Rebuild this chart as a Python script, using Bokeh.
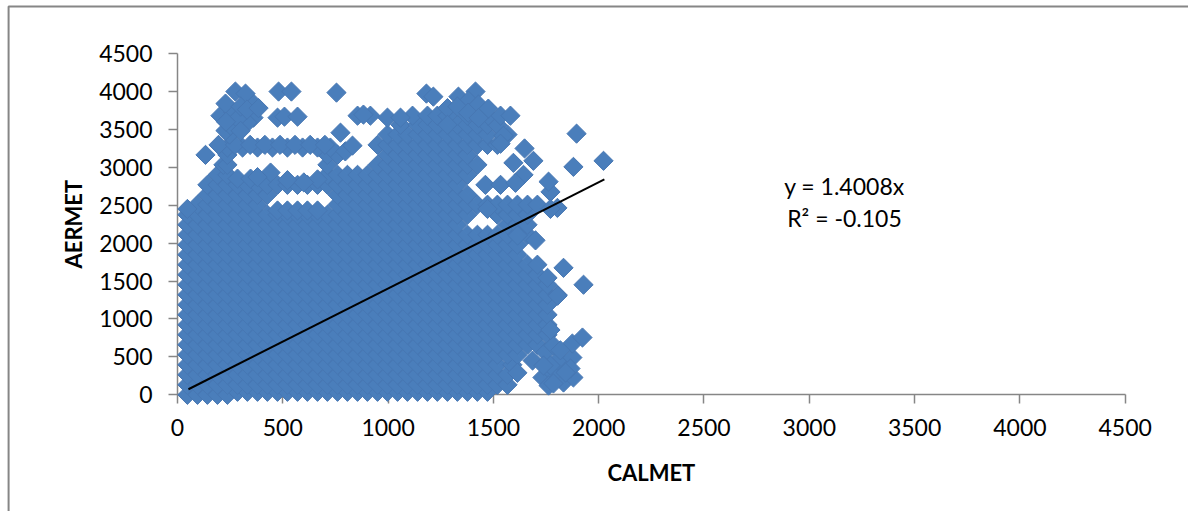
import math
from bokeh.embed import file_html
from bokeh.resources import INLINE
from bokeh.plotting import figure
from bokeh.models import FixedTicker, Label, Range1d

TICKS = [0, 500, 1000, 1500, 2000, 2500, 3000, 3500, 4000, 4500]
X_TITLE = "CALMET"
Y_TITLE = "AERMET"
EQUATION = "y = 1.4008x"
R_SQUARED = "R² = -0.105"
TREND_X = [52, 2027]
TREND_Y = [73, 2840]

# Points read row by row from the dense cloud: (CALMET values) at one AERMET level
ROWS = {}
ROWS[0] = [47, 95, 142, 190, 237]
ROWS[40] = [285, 332, 380, 427, 475, 522, 570, 617, 665, 712, 760, 807, 855, 902, 950, 997, 1045, 1092, 1140, 1187, 1234, 1282, 1329, 1377, 1424, 1472]
ROWS[132] = [47, 95, 142, 190, 237, 285, 332, 380, 427, 475, 522, 570, 617, 665, 712, 760, 807, 855, 902, 950, 997, 1045, 1092, 1140, 1187, 1234, 1282, 1329, 1377, 1424, 1472, 1519, 1567]
ROWS[264] = [47, 95, 142, 190, 237, 285, 332, 380, 427, 475, 522, 570, 617, 665, 712, 760, 807, 855, 902, 950, 997, 1045, 1092, 1140, 1187, 1234, 1282, 1329, 1377, 1424, 1472, 1519, 1567]
ROWS[396] = [47, 95, 142, 190, 237, 285, 332, 380, 427, 475, 522, 570, 617, 665, 712, 760, 807, 855, 902, 950, 997, 1045, 1092, 1140, 1187, 1234, 1282, 1329, 1377, 1424, 1472, 1519, 1590]
ROWS[528] = [47, 95, 142, 190, 237, 285, 332, 380, 427, 475, 522, 570, 617, 665, 712, 760, 807, 855, 902, 950, 997, 1045, 1092, 1140, 1187, 1234, 1282, 1329, 1377, 1424, 1472, 1519, 1567, 1614]
ROWS[660] = [47, 95, 142, 190, 237, 285, 332, 380, 427, 475, 522, 570, 617, 665, 712, 760, 807, 855, 902, 950, 997, 1045, 1092, 1140, 1187, 1234, 1282, 1329, 1377, 1424, 1472, 1519, 1567, 1614, 1662, 1709]
ROWS[792] = [47, 95, 142, 190, 237, 285, 332, 380, 427, 475, 522, 570, 617, 665, 712, 760, 807, 855, 902, 950, 997, 1045, 1092, 1140, 1187, 1234, 1282, 1329, 1377, 1424, 1472, 1519, 1567, 1614, 1662, 1709, 1757]
ROWS[923] = [47, 95, 142, 190, 237, 285, 332, 380, 427, 475, 522, 570, 617, 665, 712, 760, 807, 855, 902, 950, 997, 1045, 1092, 1140, 1187, 1234, 1282, 1329, 1377, 1424, 1472, 1519, 1567, 1614, 1662, 1709, 1757]
ROWS[1055] = [47, 95, 142, 190, 237, 285, 332, 380, 427, 475, 522, 570, 617, 665, 712, 760, 807, 855, 902, 950, 997, 1045, 1092, 1140, 1187, 1234, 1282, 1329, 1377, 1424, 1472, 1519, 1567, 1614, 1662, 1709, 1757]
ROWS[1187] = [47, 95, 142, 190, 237, 285, 332, 380, 427, 475, 522, 570, 617, 665, 712, 760, 807, 855, 902, 950, 997, 1045, 1092, 1140, 1187, 1234, 1282, 1329, 1377, 1424, 1472, 1519, 1567, 1614, 1662, 1709, 1757]
ROWS[1319] = [47, 95, 142, 190, 237, 285, 332, 380, 427, 475, 522, 570, 617, 665, 712, 760, 807, 855, 902, 950, 997, 1045, 1092, 1140, 1187, 1234, 1282, 1329, 1377, 1424, 1472, 1519, 1567, 1614, 1662, 1709, 1757, 1804]
ROWS[1451] = [47, 95, 142, 190, 237, 285, 332, 380, 427, 475, 522, 570, 617, 665, 712, 760, 807, 855, 902, 950, 997, 1045, 1092, 1140, 1187, 1234, 1282, 1329, 1377, 1424, 1472, 1519, 1567, 1614, 1662, 1709, 1757]
ROWS[1583] = [47, 95, 142, 190, 237, 285, 332, 380, 427, 475, 522, 570, 617, 665, 712, 760, 807, 855, 902, 950, 997, 1045, 1092, 1140, 1187, 1234, 1282, 1329, 1377, 1424, 1472, 1519, 1567, 1614, 1662, 1709]
ROWS[1715] = [47, 95, 142, 190, 237, 285, 332, 380, 427, 475, 522, 570, 617, 665, 712, 760, 807, 855, 902, 950, 997, 1045, 1092, 1140, 1187, 1234, 1282, 1329, 1377, 1424, 1472, 1519, 1567, 1614, 1662, 1709]
ROWS[1847] = [47, 95, 142, 190, 237, 285, 332, 380, 427, 475, 522, 570, 617, 665, 712, 760, 807, 855, 902, 950, 997, 1045, 1092, 1140, 1187, 1234, 1282, 1329, 1377, 1424, 1472, 1519, 1567, 1614]
ROWS[1978] = [47, 95, 142, 190, 237, 285, 332, 380, 427, 475, 522, 570, 617, 665, 712, 760, 807, 855, 902, 950, 997, 1045, 1092, 1140, 1187, 1234, 1282, 1329, 1377, 1424, 1472, 1519, 1567, 1614]
ROWS[2110] = [47, 95, 142, 190, 237, 285, 332, 380, 427, 475, 522, 570, 617, 665, 712, 760, 807, 855, 902, 950, 997, 1045, 1092, 1140, 1187, 1234, 1282, 1329, 1377, 1424, 1472, 1519, 1567, 1614, 1662]
ROWS[2242] = [47, 95, 142, 190, 237, 285, 332, 380, 427, 475, 522, 570, 617, 665, 712, 760, 807, 855, 902, 950, 997, 1045, 1092, 1140, 1187, 1234, 1282, 1329, 1567, 1614, 1662]
ROWS[2374] = [47, 95, 142, 190, 237, 285, 332, 380, 427, 475, 522, 570, 617, 665, 712, 760, 807, 855, 902, 950, 997, 1045, 1092, 1140, 1187, 1234, 1282, 1329, 1377, 1519, 1567, 1614, 1662]
ROWS[2506] = [95, 142, 190, 237, 285, 332, 380, 760, 807, 855, 902, 950, 997, 1045, 1092, 1140, 1187, 1234, 1282, 1329, 1377, 1424, 1472, 1519, 1567, 1614, 1662, 1709]
ROWS[2636] = [142, 190, 237, 285, 332, 380, 427, 760, 807, 855, 902, 950, 997, 1045, 1092, 1140, 1187, 1234, 1282, 1329, 1377]
ROWS[2768] = [142, 190, 237, 285, 332, 380, 427, 475, 522, 570, 617, 665, 712, 760, 807, 855, 902, 950, 997, 1045, 1092, 1140, 1187, 1234, 1282, 1329, 1462, 1534]
ROWS[2900] = [190, 237, 712, 760, 807, 855, 902, 950, 997, 1045, 1092, 1140, 1187, 1234, 1282, 1329, 1377, 1643]
ROWS[3032] = [218, 237, 712, 950, 997, 1045, 1092, 1140, 1187, 1234, 1282, 1329, 1377, 1424]
ROWS[3163] = [133, 237, 712, 760, 997, 1045, 1092, 1140, 1187, 1234, 1282, 1329, 1377]
ROWS[3260] = [237, 309, 380, 451, 522, 594, 665, 726]
ROWS[3295] = [195, 273, 345, 415, 487, 558, 630, 700, 950, 997, 1045, 1092, 1140, 1187, 1234, 1282, 1329, 1377, 1424, 1472, 1519]
ROWS[3431] = [247, 997, 1045, 1092, 1140, 1187, 1234, 1282, 1329, 1377, 1424, 1472, 1567]
ROWS[3559] = [1059, 1140, 1187, 1234, 1282, 1329, 1377, 1424, 1472, 1519]
ROWS[3680] = [204, 855, 916, 1116, 1187, 1234, 1282, 1377, 1476, 1534, 1581]
ROWS[3654] = [361, 475, 997, 1059]
ROWS[3667] = [508, 570]
ROWS[3998] = [275, 480, 541, 1415]

# Separately visible markers
EXTRA_CALMET = [47, 475, 522, 570, 617, 665, 1472, 1771, 1605, 1762, 285, 347, 442, 665, 1595, 1690, 1880, 2023,
                1648, 797, 831, 774, 1548, 1534, 1895, 228, 252, 332, 266, 228, 356, 323, 883, 755,
                1182, 1215, 1334, 1382, 1429, 1476, 1833, 1733, 1785, 1880, 1833, 1686, 1747, 1804,
                1875, 1875, 1923, 1785, 1928, 1805, 1757, 1833, 1700, 1804, 1771, 1615,
                380, 522, 600, 285, 300, 230, 300, 330, 385, 1282, 1329, 1380, 1430, 1282,
                1771, 1818, 1771, 1866, 1762, 1738, 1843, 1785, 1614]
EXTRA_AERMET = [2450, 2430, 2430, 2430, 2430, 2430, 2450, 2675, 2795, 2810, 2850, 2850, 2930, 2840, 3058, 3085, 3005, 3085,
                3248, 3209, 3285, 3456, 3415, 3310, 3443, 3483, 3549, 3588, 3720, 3839, 3852, 3971, 3694, 3984,
                3971, 3931, 3931, 3878, 3826, 3773, 162, 228, 281, 228, 386, 452, 560, 452,
                491, 676, 755, 650, 1451, 1306, 1542, 1674, 2036, 2464, 2451, 2100,
                2870, 2830, 2800, 3640, 3480, 3600, 3800, 3760, 3780, 3780, 3800, 3720, 3650, 3560,
                855, 587, 386, 346, 122, 386, 293, 149, 290]

calmet = []
aermet = []
for level, xs in ROWS.items():
    calmet += xs
    aermet += [level] * len(xs)
calmet += EXTRA_CALMET
aermet += EXTRA_AERMET

# Frame fills the canvas; the axes sit at the data origin
p = figure(width=1188, height=511, output_backend="svg", toolbar_location=None,
           x_range=Range1d(-840.4, 4800.6), y_range=Range1d(-1538.6, 5198.5),
           min_border=0, background_fill_color="white", border_fill_color="white")
p.outline_line_color = None
p.grid.visible = False

for ax in (p.xaxis[0], p.yaxis[0]):
    ax.fixed_location = 0
    ax.bounds = (0, 4500)
    ax.ticker = FixedTicker(ticks=TICKS)
    ax.minor_tick_line_color = None
    ax.axis_line_color = "#868686"
    ax.axis_line_width = 1.5
    ax.major_tick_line_color = "#868686"
    ax.major_tick_line_width = 1.5
    ax.major_tick_in = 0
    ax.major_tick_out = 9
    ax.major_label_text_font = "Lato"
    ax.major_label_text_font_size = "23px"
    ax.major_label_text_color = "#000000"
    ax.level = "underlay"
p.xaxis[0].major_label_standoff = 15
p.yaxis[0].major_label_standoff = 16

p.scatter(calmet, aermet, marker="square", size=13.6, angle=math.pi / 4,
          fill_color="#4A7EBB", line_color="#4777B3", line_width=1)
p.line(TREND_X, TREND_Y, line_color="#000000", line_width=2)

# Outer chart border: left and top edges only are visible in the picture
p.line([-802, -802, 5000], [-1700, 5119, 5119], line_color="#868686", line_width=2)

p.add_layout(Label(x=2250, y=-1030, text=X_TITLE, text_font="Lato", text_font_style="bold",
                   text_font_size="22px", text_align="center", text_baseline="middle", text_color="#000000"))
p.add_layout(Label(x=-494, y=2250, text=Y_TITLE, text_font="Lato", text_font_style="bold", angle=math.pi / 2,
                   text_font_size="22px", text_align="center", text_baseline="middle", text_color="#000000"))
p.add_layout(Label(x=3167, y=2758, text=EQUATION, text_font="Lato", text_font_size="23px",
                   text_align="center", text_baseline="middle", text_color="#000000"))
p.add_layout(Label(x=3167, y=2336, text=R_SQUARED, text_font="Lato", text_font_size="23px",
                   text_align="center", text_baseline="middle", text_color="#000000"))

open("out.html", "w").write(file_html(p, INLINE))
